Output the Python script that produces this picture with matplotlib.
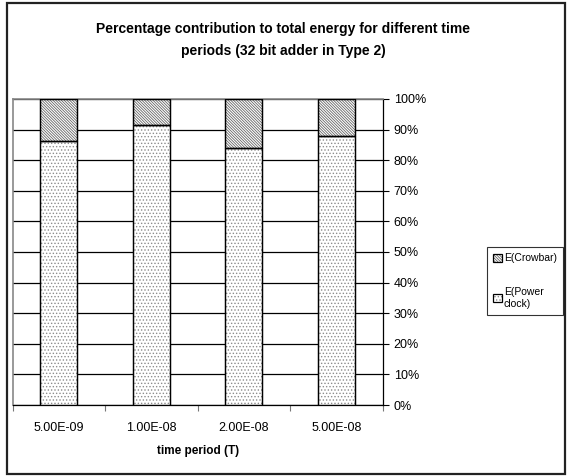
import matplotlib
matplotlib.use('Agg')
import matplotlib.pyplot as plt
from matplotlib.patches import Rectangle
import numpy as np

plt.rcParams['font.family'] = ['Liberation Sans', 'DejaVu Sans']
plt.rcParams['hatch.linewidth'] = 0.6

periods = ['5.00E-09', '1.00E-08', '2.00E-08', '5.00E-08']
power_clock = [86.4, 91.4, 84.0, 87.8]
crowbar = [13.6, 8.6, 16.0, 12.2]
yticks = list(range(0, 101, 10))

fig = plt.figure(figsize=(5.70, 4.76), dpi=100)
ax = fig.add_axes([12.7/570, 1 - 405/476, 370/570, 306/476])

x = np.arange(len(periods))
w = 0.4
b1 = ax.bar(x, power_clock, w, color='white', edgecolor='black', hatch='.....',
            linewidth=0.9, label='E(Power\nclock)', zorder=3)
b2 = ax.bar(x, crowbar, w, bottom=power_clock, color='white', edgecolor='black',
            hatch='\\' * 12, linewidth=0.9, label='E(Crowbar)', zorder=3)
for p in b1:
    p._hatch_color = (0.55, 0.55, 0.55, 1)
for p in b2:
    p._hatch_color = (0.4, 0.4, 0.4, 1)
# redraw outlines in black on top of hatches
for p in list(b1) + list(b2):
    ax.add_patch(Rectangle(p.get_xy(), p.get_width(), p.get_height(), fill=False,
                           edgecolor='black', linewidth=0.9, zorder=4))

ax.set_xlim(-0.5, len(periods) - 0.5)
ax.set_ylim(0, 100)
ax.yaxis.tick_right()
ax.set_yticks(yticks)
ax.set_yticklabels([f'{v}%' for v in yticks], fontsize=9)
ax.tick_params(axis='y', direction='out', length=4, width=0.8, pad=4)
ax.yaxis.grid(True, color='black', linewidth=0.9, zorder=0)
ax.set_axisbelow(True)

ax.set_xticks(x)
ax.set_xticklabels(periods, fontsize=9)
ax.set_xticks(np.arange(-0.5, len(periods)), minor=True)
ax.tick_params(axis='x', which='major', length=0, pad=12)
ax.tick_params(axis='x', which='minor', length=4, width=0.8, direction='out', color='#777777')
ax.set_xlabel('time period (T)', fontsize=8.5, fontweight='bold', labelpad=8)

for s in ['left', 'top']:
    ax.spines[s].set_color('#888888')
    ax.spines[s].set_linewidth(1.2)
ax.spines['bottom'].set_color('black')
ax.spines['right'].set_color('black')
ax.spines['bottom'].set_linewidth(0.9)
ax.spines['right'].set_linewidth(0.9)

fig.text(0.497, 1 - 40/476, 'Percentage contribution to total energy for different time\nperiods (32 bit adder in Type 2)',
         ha='center', va='center', fontsize=10, fontweight='bold', linespacing=1.75)

handles = [b2, b1]
leg = fig.legend(handles, [h.get_label() for h in handles], loc='upper left',
                 bbox_to_anchor=(487/570, 1 - 247/476), fontsize=7.5, frameon=True,
                 fancybox=False, edgecolor='black', handlelength=0.8, handleheight=0.8,
                 handletextpad=0.2, labelspacing=2.3, borderpad=0.6, borderaxespad=0)
leg.get_frame().set_linewidth(0.8)

fig.patches.append(Rectangle((7/570, 2/476), 558/570, 471/476, transform=fig.transFigure,
                             fill=False, edgecolor='#222222', linewidth=1.6))

fig.savefig('out.png', dpi=100)
